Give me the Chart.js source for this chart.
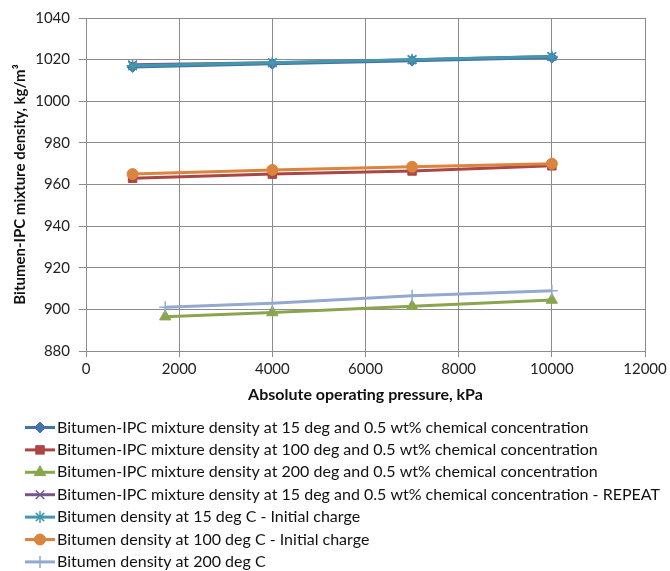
<!DOCTYPE html>
<html>
<head>
<meta charset="utf-8">
<script src="https://cdn.jsdelivr.net/npm/chart.js@4/dist/chart.umd.min.js"></script>
<style>
  html, body { margin: 0; padding: 0; background: #fff; }
  #wrap { width: 670px; height: 571px; }
</style>
</head>
<body>
<div id="wrap"><canvas id="density" width="670" height="571"></canvas></div>
<script>
// pressures (kPa)
const pressuresLow = [1000, 4000, 7000, 10000];
const pressures200 = [1700, 4000, 7000, 10000];

// densities (kg/m3)
const mix15 = [1016.5, 1018, 1019.5, 1021];
const mix100 = [963, 965, 966.5, 969];
const mix200 = [896.5, 898.5, 901.5, 904.5];
const mix15Repeat = [1017.5, 1018.5, 1020, 1021.5];
const bitumen15 = [1017, 1018.5, 1020, 1021.5];
const bitumen100 = [965, 967, 968.5, 970];
const bitumen200 = [901, 903, 906.5, 909];

const seriesLabels = [
  'Bitumen-IPC mixture density at 15 deg and 0.5 wt% chemical concentration',
  'Bitumen-IPC mixture density at 100 deg and 0.5 wt% chemical concentration',
  'Bitumen-IPC mixture density at 200 deg and 0.5 wt% chemical concentration',
  'Bitumen-IPC mixture density at 15 deg and 0.5 wt% chemical concentration - REPEAT',
  'Bitumen density at 15 deg C - Initial charge',
  'Bitumen density at 100 deg C - Initial charge',
  'Bitumen density at 200 deg C'
];

const yTicks = { min: 880, max: 1040, step: 20 };
const xTicks = { min: 0, max: 12000, step: 2000 };

const FONT = 'Lato, "Open Sans", sans-serif';
Chart.defaults.font.family = FONT;

const pts = (xs, ys) => xs.map((x, i) => ({ x: x, y: ys[i] }));

function series(i, xs, ys, color, style, radius, bw) {
  return {
    label: seriesLabels[i],
    data: pts(xs, ys),
    borderColor: color,
    backgroundColor: color,
    borderWidth: 3,
    pointStyle: style,
    pointRadius: radius,
    pointHoverRadius: radius,
    pointBackgroundColor: color,
    pointBorderColor: color,
    pointBorderWidth: bw,
    tension: 0,
    order: 10 - i   // later series sit on top
  };
}

const datasets = [
  series(0, pressuresLow, mix15, '#4572A7', 'rectRot', 5.5, 1),
  series(1, pressuresLow, mix100, '#AA4643', 'rect', 6, 1),
  series(2, pressures200, mix200, '#89A54E', 'triangle', 6.5, 1),
  series(3, pressuresLow, mix15Repeat, '#71588F', 'crossRot', 6, 1.5),
  series(4, pressuresLow, bitumen15, '#4198AF', 'star', 6, 1.5),
  series(5, pressuresLow, bitumen100, '#DB843D', 'circle', 5.5, 1),
  series(6, pressures200, bitumen200, '#93A9CF', 'cross', 6, 1.5)
];

// one legend entry per row under the plot
const rowLegend = {
  id: 'rowLegend',
  afterDraw(chart) {
    const ctx = chart.ctx;
    ctx.save();
    ctx.font = '16px ' + FONT;
    ctx.textBaseline = 'middle';
    ctx.textAlign = 'left';
    chart.data.datasets.forEach((ds, i) => {
      const y = 427.5 + i * 22.4;
      ctx.strokeStyle = ds.borderColor;
      ctx.lineWidth = 3;
      ctx.beginPath();
      ctx.moveTo(25, y);
      ctx.lineTo(55, y);
      ctx.stroke();
      ctx.fillStyle = ds.pointBackgroundColor;
      ctx.strokeStyle = ds.pointBorderColor;
      ctx.lineWidth = ds.pointBorderWidth;
      Chart.helpers.drawPoint(ctx, {
        pointStyle: ds.pointStyle, radius: ds.pointRadius, rotation: 0, borderWidth: ds.pointBorderWidth
      }, 40, y);
      ctx.fillStyle = '#111';
      ctx.fillText(ds.label, 57, y);
    });
    ctx.restore();
  }
};

const gridColor = '#8c8c8c';
const plain = v => String(v);

new Chart(document.getElementById('density'), {
  type: 'line',
  data: { datasets: datasets },
  plugins: [rowLegend],
  options: {
    responsive: false,
    animation: false,
    devicePixelRatio: 1,
    layout: { padding: { top: 18, right: 25, bottom: 166, left: 0 } },
    plugins: { legend: { display: false }, tooltip: { enabled: false } },
    scales: {
      x: {
        type: 'linear',
        min: xTicks.min, max: xTicks.max,
        afterFit(scale) { scale.height = 54; },
        ticks: { stepSize: xTicks.step, color: '#222', font: { size: 15 }, padding: 3, maxRotation: 0, callback: plain },
        grid: { color: gridColor, lineWidth: 1, tickLength: 6 },
        border: { color: gridColor, width: 1 },
        title: { display: true, text: 'Absolute operating pressure, kPa', color: '#111',
                 font: { size: 16, weight: 'bold' }, padding: { top: 0, bottom: 1 } }
      },
      y: {
        min: yTicks.min, max: yTicks.max,
        afterFit(scale) { scale.width = 86; },
        ticks: { stepSize: yTicks.step, color: '#222', font: { size: 15 }, padding: 9, callback: plain },
        grid: { color: gridColor, lineWidth: 1, tickLength: 7 },
        border: { color: gridColor, width: 1 },
        title: { display: true, text: 'Bitumen-IPC mixture density, kg/m³', color: '#111',
                 font: { size: 15, weight: 'bold' }, padding: { top: 11, bottom: 0 } }
      }
    }
  }
});
</script>
</body>
</html>
